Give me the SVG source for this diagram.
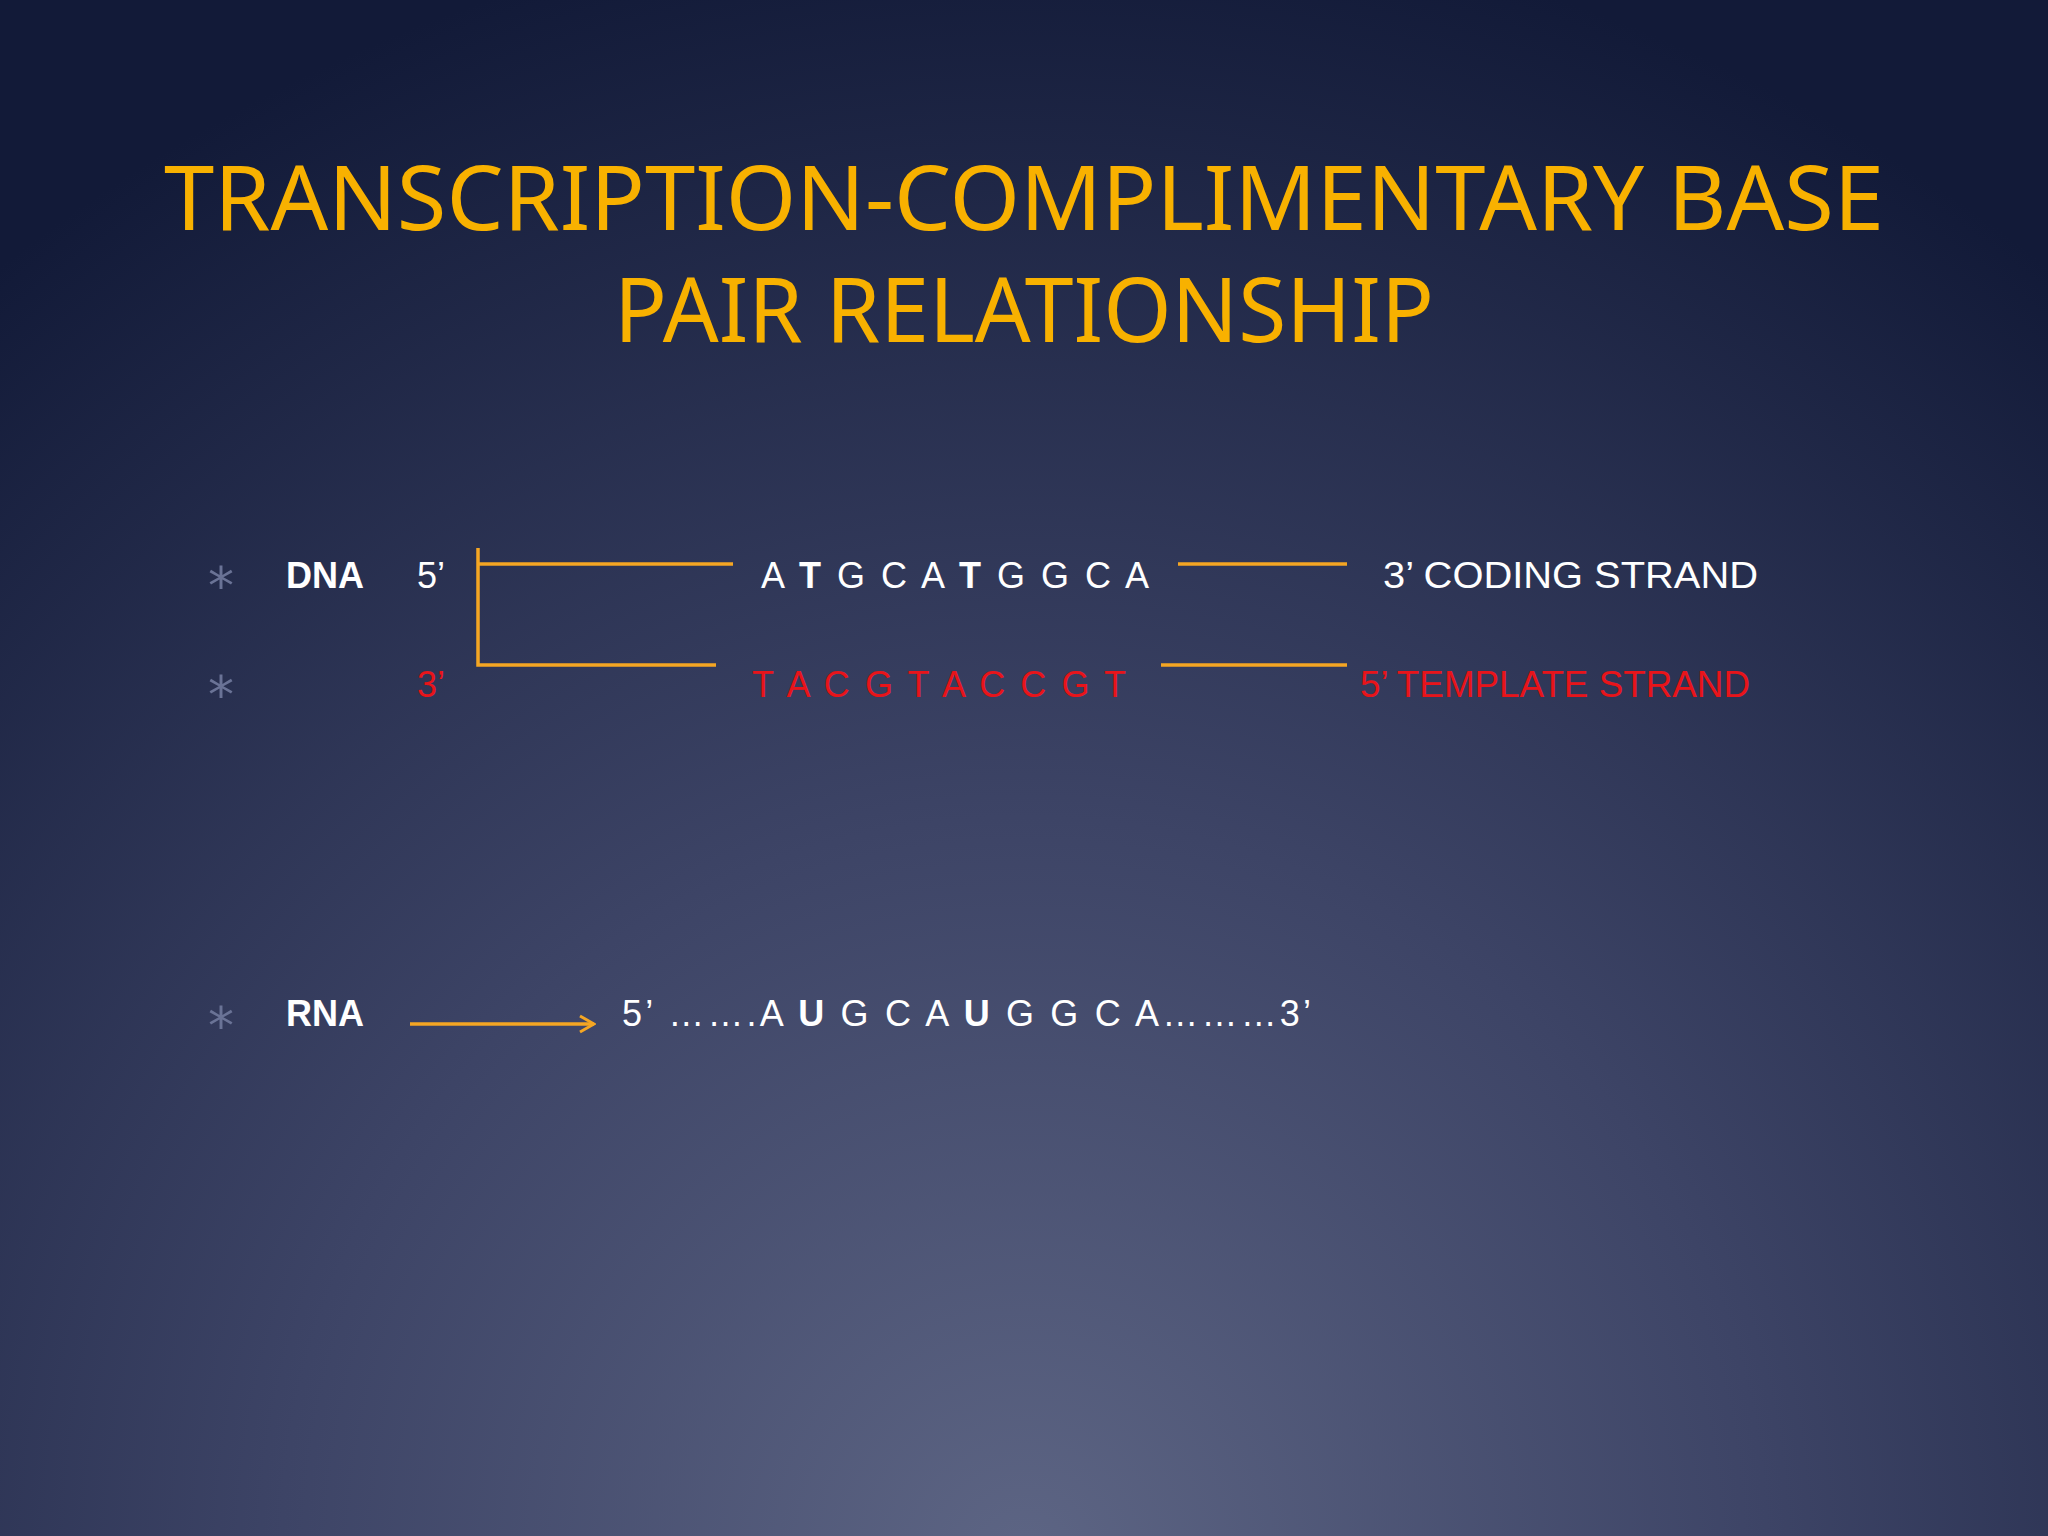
<svg xmlns="http://www.w3.org/2000/svg" width="2048" height="1536" viewBox="0 0 2048 1536">
<defs>
<radialGradient id="bg" cx="1024" cy="1560" r="1650" gradientUnits="userSpaceOnUse">
<stop offset="0" stop-color="#5d6584"/>
<stop offset="0.45" stop-color="#3d4466"/>
<stop offset="1" stop-color="#121a38"/>
</radialGradient>
<marker id="ah" markerWidth="20" markerHeight="20" refX="18" refY="10" orient="auto" markerUnits="userSpaceOnUse">
<path d="M4,2 L18,10 L4,18" fill="none" stroke="#f5a623" stroke-width="3"/>
</marker>
<style>
.t{font-family:"Noto Sans","Liberation Sans",sans-serif;fill:#f8b100;font-size:90px}
.w{font-family:"Liberation Sans",sans-serif;fill:#fff;font-size:36px}
.r{font-family:"Liberation Sans",sans-serif;fill:#e8141a;font-size:36px}
.b{font-weight:bold}
.bul{font-family:"DejaVu Sans",sans-serif;fill:#6a7396;font-size:52px}
.ln{stroke:#f5a623;stroke-width:3.5;fill:none}
</style>
</defs>
<rect width="2048" height="1536" fill="url(#bg)"/>
<g id="title">
<text class="t" x="1024" y="230" text-anchor="middle" textLength="1720" lengthAdjust="spacingAndGlyphs">TRANSCRIPTION-COMPLIMENTARY BASE</text>
<text class="t" x="1024" y="342" text-anchor="middle" textLength="820" lengthAdjust="spacingAndGlyphs">PAIR RELATIONSHIP</text>
</g>
<g id="bullets">
<text class="bul" x="208" y="604">*</text>
<text class="bul" x="208" y="713">*</text>
<text class="bul" x="208" y="1044">*</text>
</g>
<g id="dna-coding">
<text class="w b" x="286" y="588">DNA</text>
<text class="w" x="417" y="588">5’</text>
<text class="w" x="761" y="588" textLength="388" lengthAdjust="spacing">A <tspan class="b">T</tspan> G C A <tspan class="b">T</tspan> G G C A</text>
<text class="w" x="1383" y="588" textLength="375" lengthAdjust="spacingAndGlyphs">3’ CODING STRAND</text>
</g>
<g id="dna-template">
<text class="r" x="417" y="697">3’</text>
<text class="r" x="752" y="697" textLength="374" lengthAdjust="spacing">T A C G T A C C G T</text>
<text class="r" x="1360" y="697" textLength="390" lengthAdjust="spacingAndGlyphs">5’ TEMPLATE STRAND</text>
</g>
<g id="rna">
<text class="w b" x="286" y="1026">RNA</text>
<text class="w" x="622" y="1026" textLength="689" lengthAdjust="spacing">5’ …….A <tspan class="b">U</tspan> G C A <tspan class="b">U</tspan> G G C A………3’</text>
</g>
<g id="connectors">
<path class="ln" d="M478,548 V665 H716"/>
<line class="ln" x1="478" y1="564" x2="733" y2="564"/>
<line class="ln" x1="1178" y1="564" x2="1347" y2="564"/>
<line class="ln" x1="1161" y1="665" x2="1347" y2="665"/>
<line class="ln" x1="410" y1="1024" x2="594" y2="1024" marker-end="url(#ah)"/>
</g>
</svg>
